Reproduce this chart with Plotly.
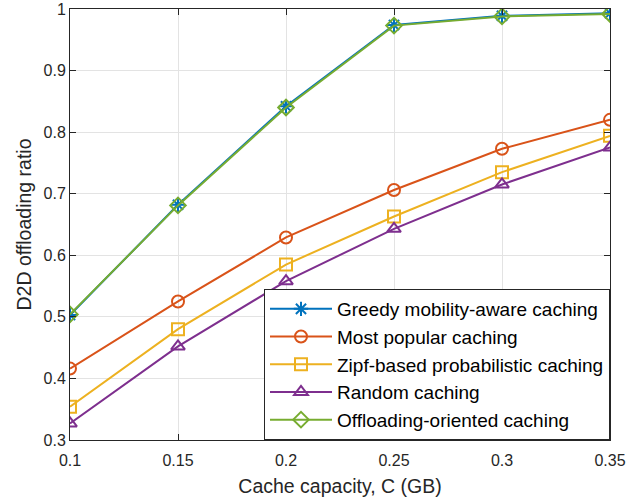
import plotly.graph_objects as go

capacity = [0.1, 0.15, 0.2, 0.25, 0.3, 0.35]
greedy = [0.503, 0.682, 0.842, 0.974, 0.989, 0.993]
most_popular = [0.416, 0.525, 0.629, 0.706, 0.773, 0.820]
zipf = [0.354, 0.480, 0.585, 0.663, 0.735, 0.794]
random_c = [0.327, 0.452, 0.558, 0.643, 0.715, 0.775]
offloading = [0.504, 0.681, 0.840, 0.973, 0.988, 0.992]

series = [
    ("Greedy mobility-aware caching", greedy, "#0072BD", "asterisk-open"),
    ("Most popular caching", most_popular, "#D95319", "circle-open"),
    ("Zipf-based probabilistic caching", zipf, "#EDB120", "square-open"),
    ("Random caching", random_c, "#7E2F8E", "triangle-up-open"),
    ("Offloading-oriented caching", offloading, "#77AC30", "diamond-open"),
]

fig = go.Figure()
for name, vals, color, sym in series:
    fig.add_trace(go.Scatter(
        x=capacity, y=vals, name=name, mode="lines+markers",
        line=dict(color=color, width=2),
        marker=dict(symbol=sym, size=12, color=color, line=dict(color=color, width=2)),
    ))

axis_common = dict(
    showgrid=True, gridcolor="#E3E3E3", gridwidth=1,
    showline=True, linecolor="#262626", linewidth=1, mirror="ticks",
    ticks="inside", ticklen=6, tickcolor="#262626",
    tickfont=dict(size=16, color="#262626"), zeroline=False,
    automargin=False,
)

fig.update_layout(
    width=644, height=499,
    margin=dict(l=70, r=34, t=9, b=59),
    paper_bgcolor="white", plot_bgcolor="white",
    font=dict(family="Liberation Sans, Arial, sans-serif", color="#262626"),
    xaxis=dict(range=[0.1, 0.35], tickvals=[0.1, 0.15, 0.2, 0.25, 0.3, 0.35],
               ticktext=["0.1", "0.15", "0.2", "0.25", "0.3", "0.35"],
               ticklabelstandoff=6,
               title=dict(text="Cache capacity, C (GB)", font=dict(size=19.5), standoff=11),
               **axis_common),
    yaxis=dict(range=[0.3, 1.0], tickvals=[0.3, 0.4, 0.5, 0.6, 0.7, 0.8, 0.9, 1.0],
               ticktext=["0.3", "0.4", "0.5", "0.6", "0.7", "0.8", "0.9", "1"],
               title=dict(text="D2D offloading ratio", font=dict(size=19.5), standoff=6),
               **axis_common),
    legend=dict(x=1, y=0, xanchor="right", yanchor="bottom",
                bordercolor="#262626", borderwidth=1, bgcolor="white",
                font=dict(size=19, color="black"), tracegroupgap=0,
                itemwidth=62),
    showlegend=True,
    hovermode=False,
)

fig.write_html("out.html", config={"displayModeBar": False},
               post_script="document.body.style.margin='0';document.body.style.padding='0';")
